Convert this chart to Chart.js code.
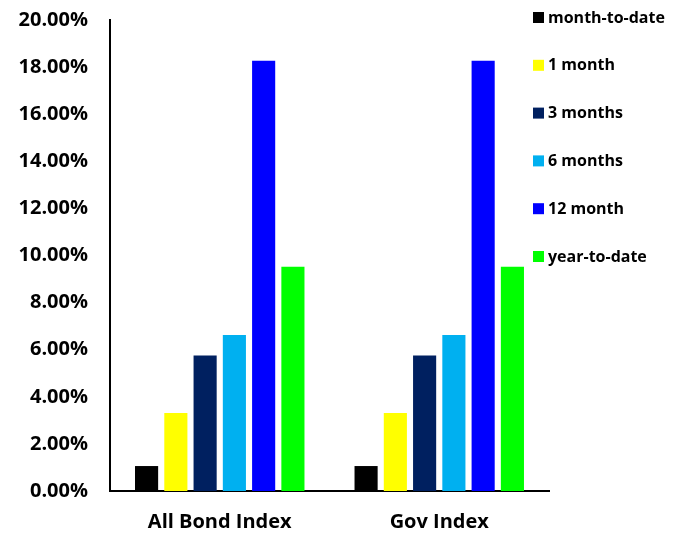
<!DOCTYPE html>
<html>
<head>
<meta charset="utf-8">
<script src="https://cdn.jsdelivr.net/npm/chart.js@4/dist/chart.umd.min.js"></script>
<style>
  html, body { margin: 0; padding: 0; background: #fff; }
  #wrap { width: 678px; height: 535px; }
</style>
</head>
<body>
<div id="wrap"><canvas id="chart" width="678" height="535"></canvas></div>
<script>
"use strict";

// Chart data
var categories = ['All Bond Index', 'Gov Index'];
var seriesNames = ['month-to-date', '1 month', '3 months', '6 months', '12 month', 'year-to-date'];
var seriesColors = ['#000000', '#FFFF00', '#002060', '#00B0F0', '#0000FF', '#00FF00'];
var monthToDate = [1.06, 1.06];
var oneMonth = [3.31, 3.31];
var threeMonths = [5.75, 5.75];
var sixMonths = [6.62, 6.62];
var twelveMonth = [18.27, 18.27];
var yearToDate = [9.52, 9.52];
var seriesValues = [monthToDate, oneMonth, threeMonths, sixMonths, twelveMonth, yearToDate];

var FONT = "'Open Sans', sans-serif";

// Legend drawn at the top right, overlapping the plot edge like the original
var sideLegend = {
    id: 'sideLegend',
    afterDraw: function (chart) {
        var ctx = chart.ctx;
        ctx.save();
        ctx.font = "bold 16px " + FONT;
        ctx.textBaseline = 'middle';
        ctx.textAlign = 'left';
        chart.data.datasets.forEach(function (ds, i) {
            var y = 17.5 + i * 47.8;
            ctx.fillStyle = ds.backgroundColor;
            ctx.fillRect(533, y - 5.5, 11, 11);
            ctx.fillStyle = '#000';
            ctx.fillText(ds.label, 548, y + 0.5);
        });
        ctx.restore();
    }
};

var config = {
    type: 'bar',
    data: {
        labels: categories,
        datasets: seriesNames.map(function (name, i) {
            return {
                label: name,
                data: seriesValues[i],
                backgroundColor: seriesColors[i],
                borderWidth: 0,
                barPercentage: 0.79,
                categoryPercentage: 0.8
            };
        })
    },
    options: {
        responsive: false,
        animation: false,
        layout: {
            padding: { top: 20, right: 129, left: 0, bottom: 0 }
        },
        scales: {
            x: {
                grid: { display: false, drawTicks: false },
                border: { display: true, color: '#000', width: 2 },
                ticks: {
                    color: '#000',
                    padding: 19,
                    font: { family: FONT, size: 20, weight: 'bold' }
                },
                afterFit: function (scale) { scale.height = 44; }
            },
            y: {
                min: 0,
                max: 20,
                grid: { display: false, drawTicks: false },
                border: { display: true, color: '#000', width: 2 },
                ticks: {
                    stepSize: 2,
                    color: '#000',
                    padding: 22,
                    font: { family: FONT, size: 20, weight: 'bold' },
                    callback: function (value) { return value.toFixed(2) + '%'; }
                },
                afterFit: function (scale) {
                    scale.width = 110;
                    // keep the plot top fixed; the tick padding would push it down
                    scale.paddingTop = 0;
                    scale.paddingBottom = 0;
                }
            }
        },
        plugins: {
            legend: { display: false },
            tooltip: { enabled: false }
        }
    },
    plugins: [sideLegend]
};

var ctx = document.getElementById('chart').getContext('2d');
new Chart(ctx, config);
</script>
</body>
</html>
